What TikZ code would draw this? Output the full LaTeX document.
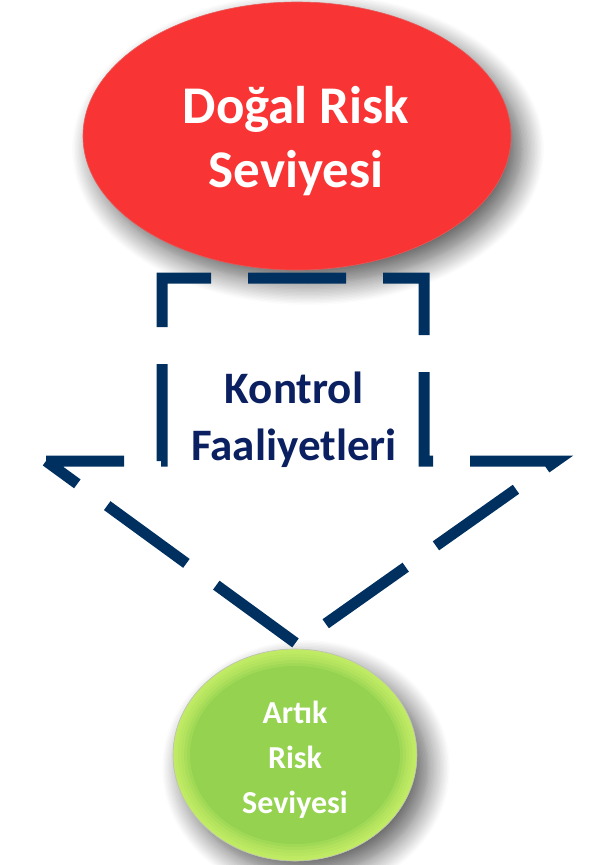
\documentclass[tikz,border=0pt]{standalone}
\usepackage{fontspec}
\setmainfont{Carlito}
\usetikzlibrary{shapes.geometric,shadows.blur}
\definecolor{redfill}{RGB}{248,52,52}
\definecolor{redrim}{RGB}{230,90,90}
\definecolor{gmain}{RGB}{148,210,80}
\definecolor{grim}{RGB}{210,246,110}
\definecolor{navyline}{RGB}{0,48,96}
\definecolor{navytext}{RGB}{10,32,96}
\tikzset{
  softshadow/.style={blur shadow={shadow xshift=11pt, shadow yshift=-13pt, shadow blur radius=22pt, shadow blur steps=16, shadow opacity=65}},
  riskoval/.style={ellipse, inner sep=0pt, softshadow},
  whitetext/.style={text=white, align=center, inner sep=0pt},
  glowring/.style={draw=grim, draw opacity=0.2},
  arrowline/.style={draw=navyline, line width=11pt, line join=miter, dash pattern=on 98pt off 37pt, dash phase=20pt},
}
\begin{document}
\begin{tikzpicture}[x=1pt,y=-1pt]
\useasboundingbox (0,0) rectangle (595,865);
% inherent risk
\node[riskoval, fill=redfill, draw=redrim, line width=0.6pt, minimum width=428pt, minimum height=268pt] (inherent) at (297,136) {};
\node[whitetext, font=\bfseries\fontsize{53}{64}\selectfont] (inherenttext) at (296,141) {Doğal Risk\\Seviyesi};
% residual risk
\node[riskoval, fill=gmain, minimum width=244pt, minimum height=212pt] (residual) at (295,755) {};
\begin{scope}
  \clip (residual.center) ellipse [x radius=122pt, y radius=106pt];
  \foreach \w in {34,28,22,16,10,5}
    \draw[glowring, line width=\w pt] (residual.center) ellipse [x radius=122pt, y radius=106pt];
\end{scope}
\draw[black!25, line width=0.6pt] (residual.center) ellipse [x radius=122pt, y radius=106pt];
\node[whitetext, font=\bfseries\fontsize{32}{45}\selectfont] (residualtext) at (295,760) {Artık\\Risk\\Seviyesi};
% dashed down arrow
\coordinate (vl) at (46,461);
\coordinate (bl) at (162,461);
\coordinate (tl) at (162,278);
\coordinate (tr) at (424,278);
\coordinate (br) at (424,461);
\coordinate (vr) at (556,461);
\coordinate (tip) at (297,644);
\draw[arrowline] (vl) -- (bl) -- (tl) -- (tr) -- (br) -- (vr) -- (tip) -- cycle;
\node[text=navytext, align=center, inner sep=0pt, font=\bfseries\fontsize{45}{57}\selectfont] (control) at (294,420) {Kontrol\\Faaliyetleri};
\end{tikzpicture}
\end{document}
